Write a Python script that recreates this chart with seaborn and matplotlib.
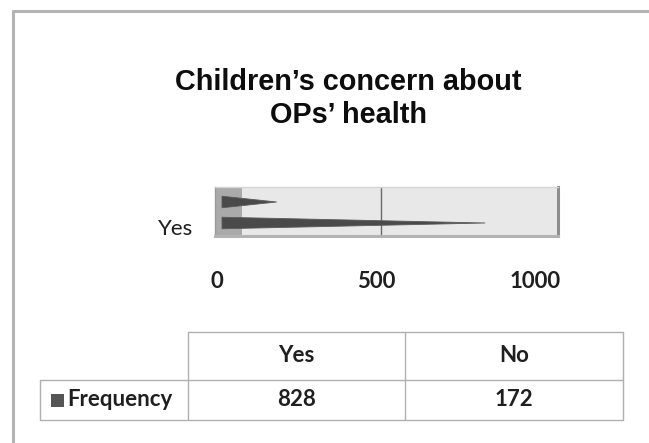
import numpy as np
import pandas as pd
import matplotlib
matplotlib.use("Agg")
import matplotlib.pyplot as plt
from matplotlib.patches import Polygon, Rectangle
from matplotlib.lines import Line2D
from matplotlib.transforms import ScaledTranslation
import seaborn as sns

# Survey answers and their counts
categories = ["Yes", "No"]
frequency = [828, 172]
x_ticks = [0, 500, 1000]
series_name = "Frequency"
title_lines = ["Children\u2019s concern about", "OPs\u2019 health"]

sns.set_style("white")
plt.rcParams["font.family"] = ["Lato", "DejaVu Sans"]

W, H = 649, 443
DPI = 100
fig = plt.figure(figsize=(W / DPI, H / DPI), dpi=DPI)
fig.patch.set_facecolor("white")


def fx(x):
    return x / W


def fy(y):
    return 1 - y / H


# outer chart frame (left and top edges)
frame_kw = dict(color="#b4b4b4", lw=2.2, transform=fig.transFigure)
fig.add_artist(Line2D([fx(12.5), fx(12.5)], [fy(11), fy(H + 5)], **frame_kw))
fig.add_artist(Line2D([fx(12.5), fx(W + 5)], [fy(11), fy(11)], **frame_kw))

# title
for text, base in zip(title_lines, [90, 123]):
    fig.text(fx(348), fy(base), text, ha="center", va="baseline",
             fontsize=20.8, fontweight="bold", family="Liberation Sans",
             color="#0d0d0d")

# plot area
ax = fig.add_axes([fx(215), fy(236), (558 - 215) / W, (236 - 187) / H])
ax.set_facecolor("#e8e8e8")

df = pd.DataFrame({"answer": categories, "count": frequency})
sns.barplot(data=df, x="count", y="answer", order=["No", "Yes"],
            orient="h", width=0.55, color="#4d4d4d", ax=ax)

# turn the rectangles into tapering pyramids
for bar in list(ax.patches):
    x0 = bar.get_x()
    w = bar.get_width()
    y0 = bar.get_y()
    h = bar.get_height()
    yc = y0 + h / 2
    bar.remove()
    ax.add_patch(Polygon([(x0, y0), (x0 + w, yc), (x0, y0 + h)],
                         closed=True, facecolor="#4a4a4a",
                         edgecolor="#5a5a5a", lw=0.6, zorder=3))

ax.set_xlim(-22, 1057)
ax.set_ylim(1.619, -0.714)

# side wall
ax.add_patch(Rectangle((-22, -0.714), 85, 2.333, facecolor="#aaaaaa",
                       edgecolor="none", zorder=1))
ax.axvline(500, color="#6a6a6a", lw=1.0, zorder=2)

for side, col, lw in [("top", "#d6d6d6", 1.0), ("right", "#8e8e8e", 2.2),
                      ("bottom", "#b3b3b3", 2.2), ("left", "#9a9a9a", 1.0)]:
    ax.spines[side].set_visible(True)
    ax.spines[side].set_color(col)
    ax.spines[side].set_linewidth(lw)

ax.set_xticks(x_ticks)
ax.set_xticklabels([str(v) for v in x_ticks])
ax.set_yticks([1])
ax.set_yticklabels(["Yes"])
ax.set_xlabel("")
ax.set_ylabel("")
ax.tick_params(axis="x", length=0, pad=25, labelsize=16, labelcolor="#1f1f1f")
ax.tick_params(axis="y", length=0, pad=16, labelsize=16, labelcolor="#1f1f1f")
for lab in ax.get_xticklabels():
    lab.set_fontweight("bold")
    lab.set_transform(lab.get_transform()
                      + ScaledTranslation(-5 / DPI, 0, fig.dpi_scale_trans))
for lab in ax.get_yticklabels():
    lab.set_transform(lab.get_transform()
                      + ScaledTranslation(0, -4 / DPI, fig.dpi_scale_trans))

# data table below the chart
line_kw = dict(color="#b0b0b0", lw=1.0, transform=fig.transFigure)


def hline(x1, x2, y):
    fig.add_artist(Line2D([fx(x1), fx(x2)], [fy(y), fy(y)], **line_kw))


def vline(x, y1, y2):
    fig.add_artist(Line2D([fx(x), fx(x)], [fy(y1), fy(y2)], **line_kw))


col_edges = [40, 188, 405, 623]
row_edges = [332, 380, 420]
hline(col_edges[1], col_edges[3], row_edges[0])
hline(col_edges[0], col_edges[3], row_edges[1])
hline(col_edges[0], col_edges[3], row_edges[2])
vline(col_edges[0], row_edges[1], row_edges[2])
for cx in col_edges[1:]:
    vline(cx, row_edges[0], row_edges[2])

text_kw = dict(fontsize=16, fontweight="bold", color="#1f1f1f",
               ha="center", va="center")
head_y = (row_edges[0] + row_edges[1]) / 2
data_y = (row_edges[1] + row_edges[2]) / 2
for i, (cat, val) in enumerate(zip(categories, frequency)):
    cx = (col_edges[i + 1] + col_edges[i + 2]) / 2
    fig.text(fx(cx), fy(head_y), cat, **text_kw)
    fig.text(fx(cx), fy(data_y), str(val), **text_kw)

fig.add_artist(Rectangle((fx(51), fy(407)), 13 / W, 13 / H,
                         transform=fig.transFigure, facecolor="#555555",
                         edgecolor="none"))
fig.text(fx(67), fy(data_y), series_name, fontsize=16, fontweight="bold",
         color="#1f1f1f", ha="left", va="center")

fig.savefig("out.png", dpi=DPI)
